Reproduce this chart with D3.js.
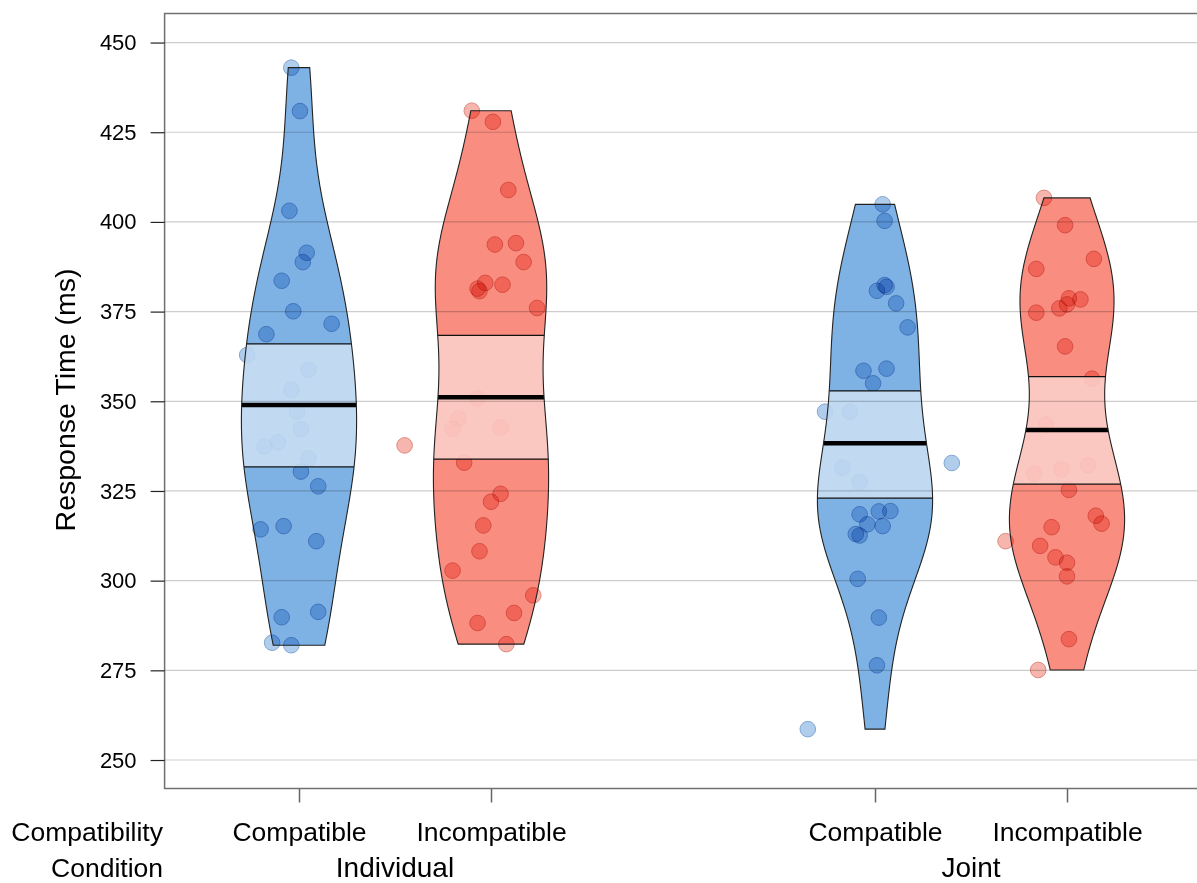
<!DOCTYPE html>
<html><head><meta charset="utf-8">
<script src="https://cdn.jsdelivr.net/npm/d3@7"></script>
<style>
body{margin:0;background:#fff}
svg{display:block}
text{font-family:"Liberation Sans",Arial,sans-serif;fill:#000}
</style>
</head><body>
<svg id="c" width="1197" height="883"></svg>
<script>
// ---------- data ----------
const groupLabels = ["Individual", "Joint"];
const compatLabels = ["Compatible", "Incompatible", "Compatible", "Incompatible"];
const beanPositions = [1, 2, 4, 5];
const groupPositions = [1.5, 4.5];
const yTicks = [250, 275, 300, 325, 350, 375, 400, 425, 450];

const indCompatRT = [443.0, 430.9, 403.1, 391.4, 388.8, 383.6, 375.1, 371.6, 368.7, 362.9, 358.8, 353.2, 347.1,
  342.2, 338.6, 337.4, 334.1, 330.4, 326.3, 315.2, 314.3, 311.0, 291.3, 289.8, 282.7, 282.0];
const indCompatJitter = [-0.04, 0.005, -0.05, 0.04, 0.02, -0.09, -0.03, 0.17, -0.17, -0.27, 0.05, -0.04, -0.01,
  0.01, -0.11, -0.18, 0.05, 0.01, 0.10, -0.08, -0.20, 0.09, 0.10, -0.09, -0.14, -0.04];

const indIncompRT = [431.0, 427.9, 408.9, 394.1, 393.7, 388.8, 383.0, 382.5, 381.4, 380.7, 376.0, 350.8, 345.2,
  342.7, 342.3, 337.7, 332.9, 324.2, 322.0, 315.4, 308.2, 302.8, 295.9, 291.0, 288.2, 282.3];
const indIncompJitter = [-0.10, 0.01, 0.09, 0.13, 0.02, 0.17, -0.03, 0.06, -0.07, -0.06, 0.24, -0.07, -0.17,
  0.05, -0.20, -0.45, -0.14, 0.05, 0.00, -0.04, -0.06, -0.20, 0.22, 0.12, -0.07, 0.08];

const jointCompatRT = [404.9, 400.3, 382.4, 381.9, 380.8, 377.3, 370.6, 359.1, 358.5, 355.0, 347.1, 347.1, 332.8,
  331.5, 327.5, 319.4, 319.3, 318.5, 315.7, 315.2, 313.0, 312.6, 300.5, 289.7, 276.4, 258.6];
const jointCompatJitter = [0.04, 0.05, 0.05, 0.06, 0.01, 0.11, 0.17, 0.06, -0.06, -0.01, -0.26, -0.13, 0.40,
  -0.17, -0.08, 0.08, 0.02, -0.08, -0.04, 0.04, -0.10, -0.08, -0.09, 0.02, 0.01, -0.35];

const jointIncompRT = [406.7, 399.1, 389.7, 386.9, 378.7, 378.4, 377.0, 375.9, 374.7, 365.3, 356.3, 343.5, 332.2,
  331.0, 329.8, 325.3, 318.1, 315.9, 314.9, 311.0, 309.7, 306.5, 305.0, 301.2, 283.7, 275.1];
const jointIncompJitter = [-0.12, -0.01, 0.14, -0.16, 0.01, 0.07, 0.00, -0.04, -0.16, -0.01, 0.13, -0.11, 0.11,
  -0.03, -0.17, 0.01, 0.15, 0.18, -0.08, -0.32, -0.14, -0.06, 0.00, 0.00, 0.01, -0.15];

// inference band limits
const infLow  = [331.7, 333.9, 323.0, 326.9];
const infHigh = [366.0, 368.4, 352.9, 356.9];

const allRT = [indCompatRT, indIncompRT, jointCompatRT, jointIncompRT];
const allJitter = [indCompatJitter, indIncompJitter, jointCompatJitter, jointIncompJitter];

// ---------- styles ----------
const palettes = [
  {bean: "rgb(126,178,228)", band: "rgb(204,225,245)", pt: "rgb(176,206,236)", ptStroke: "rgb(130,165,210)"},
  {bean: "rgb(249,141,128)", band: "rgb(252,210,205)", pt: "rgb(246,182,174)", ptStroke: "rgb(220,138,128)"}
];
const beanColorIdx = [0, 1, 0, 1];
const beanMaxHalf = 0.30;

// ---------- scales ----------
const svg = d3.select("#c");
const x = d3.scaleLinear().domain([0.3, 5.7]).range([164.6, 1201.4]);
const y = d3.scaleLinear().domain([242.06, 458.1]).range([788.5, 13.5]);

function nrd0(v) {
  const s = d3.deviation(v);
  const sorted = v.slice().sort(d3.ascending);
  const q = d3.quantile(sorted, 0.75) - d3.quantile(sorted, 0.25);
  const lo = Math.min(s, q / 1.34);
  return 0.9 * lo * Math.pow(v.length, -0.2);
}
function makeDens(v) {
  const bw = nrd0(v);
  const f = t => d3.mean(v, d => Math.exp(-0.5 * ((t - d) / bw) ** 2)) / (bw * Math.sqrt(2 * Math.PI));
  const mn = d3.min(v), mx = d3.max(v);
  const grid = d3.range(0, 513).map(i => mn - 3 * bw + (mx - mn + 6 * bw) * i / 512);
  const dmax = d3.max(grid, f);
  return {f: t => f(t) / dmax * beanMaxHalf, mn, mx};
}

const area = d3.area().curve(d3.curveLinear);

const gBeans = svg.append("g");
const gPts = svg.append("g");
const gBands = svg.append("g");
const gGrid = svg.append("g");
const gLines = svg.append("g");

allRT.forEach((vals, i) => {
  const pos = beanPositions[i];
  const pal = palettes[beanColorIdx[i]];
  const D = makeDens(vals);
  const ys = d3.range(0, 201).map(k => D.mn + (D.mx - D.mn) * k / 200);
  const pts = ys.map(t => ({t, w: D.f(t)}));
  area.y(d => y(d.t)).x0(d => x(pos - d.w)).x1(d => x(pos + d.w));
  const beanPath = area(pts);
  gBeans.append("path").attr("d", beanPath).attr("fill", pal.bean).attr("stroke", "none");

  gPts.selectAll(null).data(vals.map((v, k) => ({v, j: allJitter[i][k]}))).join("circle")
    .attr("cx", d => x(pos + d.j)).attr("cy", d => y(d.v)).attr("r", 7.8)
    .attr("fill", pal.pt).attr("stroke", pal.ptStroke).attr("stroke-width", 1)
    .style("mix-blend-mode", "multiply");

  const lo = infLow[i], hi = infHigh[i];
  const bys = [lo].concat(ys.filter(t => t > lo && t < hi)).concat([hi]);
  const bpts = bys.map(t => ({t, w: D.f(t)}));
  gBands.append("path").attr("d", area(bpts)).attr("fill", pal.band).attr("opacity", 0.85);

  [lo, hi].forEach(t => {
    const w = D.f(t);
    gLines.append("line").attr("x1", x(pos - w)).attr("x2", x(pos + w)).attr("y1", y(t)).attr("y2", y(t))
      .attr("stroke", "#111").attr("stroke-width", 1.2);
  });
  const m = d3.mean(vals);
  const wm = D.f(m);
  gLines.append("line").attr("x1", x(pos - wm)).attr("x2", x(pos + wm)).attr("y1", y(m)).attr("y2", y(m))
    .attr("stroke", "#000").attr("stroke-width", 4.5);
  gLines.append("path").attr("d", beanPath).attr("fill", "none").attr("stroke", "#222").attr("stroke-width", 1.1);
});

// gridlines
gGrid.selectAll("line").data(yTicks).join("line")
  .attr("x1", 164.6).attr("x2", 1197).attr("y1", d => y(d)).attr("y2", d => y(d))
  .attr("stroke", "rgba(0,0,0,0.2)").attr("stroke-width", 1.2);

// frame
svg.append("rect").attr("x", 164.6).attr("y", 13.5).attr("width", 1201.4 - 164.6).attr("height", 775)
  .attr("fill", "none").attr("stroke", "#707070").attr("stroke-width", 1.5);

// y axis
const yAx = svg.append("g").attr("transform", "translate(164.6,0)")
  .call(d3.axisLeft(y).tickValues(yTicks).tickSize(14).tickPadding(14).tickFormat(d3.format("d")));
yAx.select(".domain").remove();
yAx.selectAll(".tick line").attr("stroke", "#222").attr("stroke-width", 1.2);
yAx.selectAll(".tick text").attr("font-size", 22).attr("font-family", "Liberation Sans, Arial, sans-serif").attr("fill", "#000");

// x axis
const xAx = svg.append("g").attr("transform", "translate(0,788.5)")
  .call(d3.axisBottom(x).tickValues(beanPositions).tickSize(14).tickFormat((d, i) => compatLabels[i]));
xAx.select(".domain").remove();
xAx.selectAll(".tick line").attr("stroke", "#666").attr("stroke-width", 1.5);
xAx.selectAll(".tick text").attr("font-size", 26.5).attr("font-family", "Liberation Sans, Arial, sans-serif")
  .attr("fill", "#000").attr("dy", null).attr("y", 52.5);

// group labels
svg.selectAll(".glab").data(groupLabels).join("text").attr("class", "glab")
  .attr("x", (d, i) => x(groupPositions[i])).attr("y", 877).attr("text-anchor", "middle")
  .attr("font-size", 28).text(d => d);

// row labels
svg.append("text").attr("x", 163).attr("y", 841).attr("text-anchor", "end").attr("font-size", 26.5).text("Compatibility");
svg.append("text").attr("x", 163).attr("y", 877).attr("text-anchor", "end").attr("font-size", 26.5).text("Condition");

// y title
svg.append("text").attr("transform", "translate(75,400) rotate(-90)").attr("text-anchor", "middle")
  .attr("font-size", 28.5).text("Response Time (ms)");
</script>
</body></html>
